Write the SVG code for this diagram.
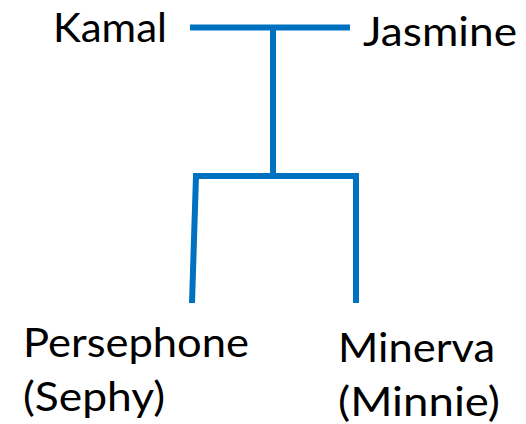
<svg xmlns="http://www.w3.org/2000/svg" width="526" height="424" viewBox="0 0 526 424">
<style>
text{font-family:Lato,"Open Sans","Liberation Sans",sans-serif;font-size:40px;fill:#000}
.ln{stroke:#0070C0;stroke-width:6;fill:none;stroke-linejoin:miter}
</style>
<rect width="526" height="424" fill="#fff"/>
<g id="connectors">
<line class="ln" x1="190" y1="27.5" x2="350" y2="27.5"/>
<line class="ln" x1="273" y1="27.5" x2="273" y2="176"/>
<polyline class="ln" points="192,303 196,176 356,176 356,303"/>
</g>
<g id="kamal"><text x="53" y="42" textLength="114" lengthAdjust="spacingAndGlyphs">Kamal</text></g>
<g id="jasmine"><text x="363" y="46" textLength="154" lengthAdjust="spacingAndGlyphs">Jasmine</text></g>
<g id="persephone"><text x="23" y="357" textLength="226" lengthAdjust="spacingAndGlyphs">Persephone</text><text x="23" y="411" textLength="142" lengthAdjust="spacingAndGlyphs">(Sephy)</text></g>
<g id="minerva"><text x="338" y="362" textLength="157" lengthAdjust="spacingAndGlyphs">Minerva</text><text x="338" y="416" textLength="162" lengthAdjust="spacingAndGlyphs">(Minnie)</text></g>
</svg>
